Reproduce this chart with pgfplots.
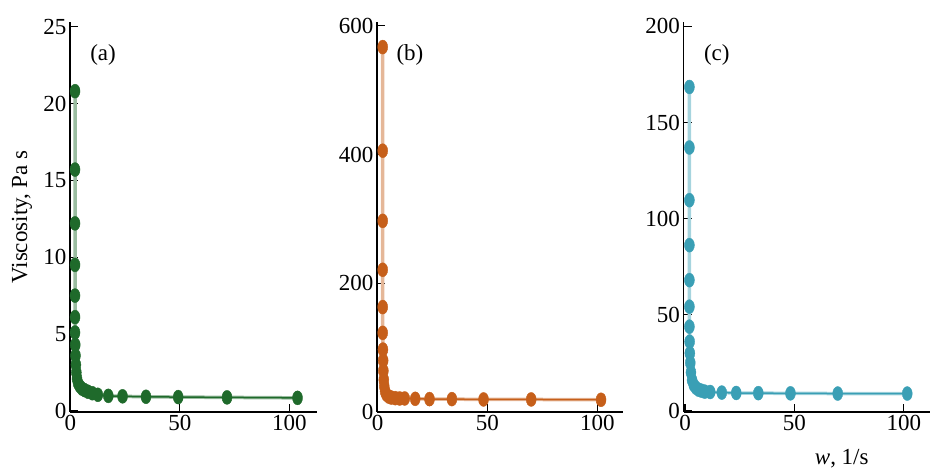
\documentclass[border=0pt]{standalone}
\usepackage{pgfplots}
\usepackage{pgfplotstable}
\pgfplotsset{compat=1.18}
\usepackage{fontspec}
\setmainfont{Liberation Serif}

\definecolor{cgreen}{HTML}{1F6A2B}
\definecolor{corange}{HTML}{C65F1A}
\definecolor{cteal}{HTML}{3A9FB5}

% viscosity vs shear rate, three samples
\pgfplotstableread{
x y
2.1 20.8
2.1 15.7
2.1 12.2
2.1 9.5
2.1 7.5
2.1 6.1
2.1 5.1
2.2 4.3
2.3 3.6
2.5 3.0
2.7 2.5
3.0 2.1
3.5 1.8
4.3 1.6
5.3 1.45
6.5 1.35
8.0 1.25
10 1.15
12.5 1.05
17.3 0.98
23.8 0.95
34.5 0.92
49.2 0.9
71.5 0.88
103.7 0.85
}\dataA

\pgfplotstableread{
x y
2.3 567
2.3 406
2.3 297
2.3 221
2.3 163
2.3 123
2.4 97
2.5 80
2.6 64
2.8 50
3.0 40
3.4 32
4.0 27
5.0 24
6.2 22.5
8.0 21.5
10 21
12.3 21
17.1 20.5
23.6 20
33.8 20
48.2 19.5
69.9 19.5
101.7 19
}\dataB

\pgfplotstableread{
x y
2.0 168.5
2.0 137
2.0 109.6
2.0 86.2
2.0 68
2.0 54.2
2.0 43.8
2.1 36
2.2 30
2.4 25
2.7 20
3.2 16
4.0 13.5
5.0 12
6.2 11
7.5 10.5
9.0 10
11.5 9.8
16.8 9.5
23.4 9.3
33.5 9.2
48.2 9.1
69.8 9.0
101.6 9.0
}\dataC

\pgfplotsset{
  panel/.style={
    scale only axis,
    anchor=south west,
    width=247pt, height=390pt,
    axis lines=left,
    axis line style={-, line width=1.1pt, black},
    tick align=inside,
    major tick length=8pt,
    tick style={black, line width=1.1pt},
    xtick={0,50,100},
    clip=false,
    /pgf/number format/assume math mode=true,
    ticklabel style={font=\fontsize{23}{27}\selectfont},
    label style={font=\fontsize{23}{27}\selectfont},
  },
  band/.style={line width=3.5pt, #1!45, no markers},
  thin/.style={line width=1.5pt, #1, no markers},
  dots/.style={only marks, color=#1, mark=*, mark size=5pt,
    mark options={draw=#1, fill=#1, yscale=1.4}},
}

\begin{document}
\begin{tikzpicture}[font=\fontsize{23}{27}\selectfont]
\path[use as bounding box] (0,0) rectangle (931pt,470pt);

\begin{axis}[panel, at={(70pt,58pt)},
  xmin=-0.2, xmax=112.6, ymin=-0.07, ymax=25.3,
  ytick={0,5,...,25},
  ylabel={Viscosity, Pa s},
  ylabel style={at={(axis description cs:-0.194,0.5)}, anchor=center}]
  \addplot[band=cgreen] table {\dataA};
  \addplot[thin=cgreen] table[skip coords between index={0}{17}] {\dataA};
  \addplot[dots=cgreen] table {\dataA};
  \node at (axis description cs:0.134,0.915) {(a)};
\end{axis}

\begin{axis}[panel, at={(377pt,58pt)}, width=246pt,
  xmin=-0.3, xmax=111.7, ymin=0, ymax=606,
  ytick={0,200,400,600}]
  \addplot[band=corange] table {\dataB};
  \addplot[thin=corange] table[skip coords between index={0}{16}] {\dataB};
  \addplot[dots=corange] table {\dataB};
  \node at (axis description cs:0.134,0.915) {(b)};
\end{axis}

\begin{axis}[panel, at={(683.5pt,58pt)}, width=246.5pt,
  xmin=-0.7, xmax=112, ymin=-0.6, ymax=202.3,
  ytick={0,50,...,200},
  xlabel={\textit{w}, 1/s},
  xlabel style={at={(axis description cs:0.642,0)}, anchor=base, yshift=-53pt}]
  \addplot[band=cteal] table {\dataC};
  \addplot[thin=cteal] table[skip coords between index={0}{16}] {\dataC};
  \addplot[dots=cteal] table {\dataC};
  \node at (axis description cs:0.135,0.915) {(c)};
\end{axis}
\end{tikzpicture}
\end{document}
